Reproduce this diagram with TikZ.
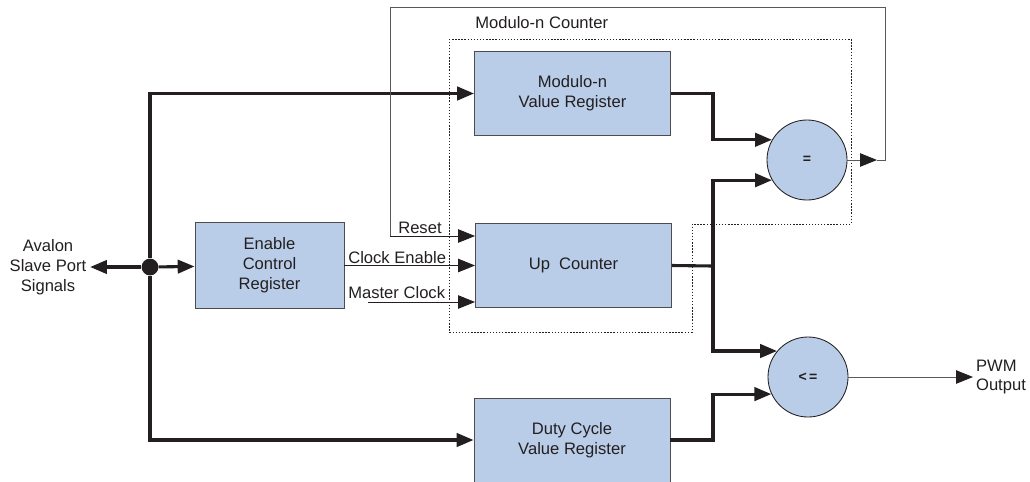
\documentclass[tikz,border=0pt]{standalone}
\usepackage{fontspec}
\setmainfont{Liberation Sans}
\usetikzlibrary{arrows.meta}
\definecolor{regblue}{RGB}{185,205,232}
\definecolor{ink}{RGB}{35,31,32}
\begin{document}
\begin{tikzpicture}[x=0.025cm, y=-0.025cm,
    font=\fontsize{11.8}{14.2}\selectfont,
    block/.style={draw=ink!80, fill=regblue, line width=0.6pt, rectangle, minimum height=2.1cm, minimum width=4.9cm, align=center, text=ink},
    cmp/.style={draw=ink, fill=regblue, line width=0.6pt, circle, minimum size=2cm, inner sep=0pt, text=ink, font=\fontsize{10}{12}\selectfont\bfseries},
    bus/.style={draw=ink, line width=2.2pt},
    sig/.style={draw=ink, line width=0.7pt},
    fb/.style={draw=ink!75, line width=0.7pt},
    tip/.style={-{Triangle[length=12pt,width=9.5pt,color=ink]}},
    lbl/.style={inner sep=0pt, text=ink}
  ]
    \useasboundingbox (0,0) rectangle (1030,481);

    % Blocks
    \node[block] at (572.5,93.5) (modreg) {Modulo-n\\Value Register};
    \node[block] at (573.5,265.5) (upcnt)  {Up\ \ Counter};
    \node[block] at (572,440)    (duty)   {Duty Cycle\\Value Register};
    \node[block, minimum width=3.725cm, minimum height=2.15cm] at (269.5,265.5) (enable) {Enable\\Control\\Register};
    \node[cmp] at (807,160) (eqc) {=};
    \node[cmp] at (808,377) (lec) {<\,=};

    % Port, junction and output
    \node[lbl, inner sep=2.5pt, align=center] at (48,267) (avalon) {Avalon\\Slave Port\\Signals};
    \node[circle, fill=ink, minimum size=0.42cm, inner sep=0pt] at (150,267) (dot) {};
    \node[lbl, inner sep=2pt, anchor=west, align=left] at (973,377) (pwm) {PWM\\Output};

    % Modulo-n counter boundary
    \draw[ink, line width=0.7pt, dash pattern=on 1pt off 1.2pt] (449,39) -- (851,39) -- (851,224) -- (692,224) -- (692,332) -- (449,332) -- cycle;
    \node[lbl, anchor=base west] at (475,28) (modlbl) {Modulo-n Counter};

    % Bus connections
    \draw[bus,tip] (dot) -- (avalon);
    \draw[bus,tip] (dot) -- (enable);
    \draw[bus,tip] (dot) |- (modreg.west);
    \draw[bus,tip] (dot) |- (duty.west);

    % Counter inputs
    \coordinate (rst) at (390,236);
    \coordinate (mclk) at (368,302);
    \draw[sig,tip] (rst) -- (rst -| upcnt.west);
    \draw[sig,tip] (enable.east) -- (upcnt.west |- enable.east);
    \draw[sig,tip] (mclk) -- (mclk -| upcnt.west);
    \node[lbl, anchor=base west] at (398,233) (rstlbl) {Reset};
    \node[lbl, anchor=base west] at (348,263) (enlbl) {Clock Enable};
    \node[lbl, anchor=base west] at (348,298) (mclklbl) {Master Clock};

    % Comparator inputs
    \coordinate (split) at (713,266);
    \draw[bus,tip] (modreg.east) -| (split |- eqc.150) -- (eqc.150);
    \draw[bus] (upcnt.east) -- (split);
    \draw[bus,tip] (split) |- (eqc.210);
    \draw[bus,tip] (split) |- (lec.140);
    \draw[bus,tip] (duty.east) -| (split |- lec.205) -- (lec.205);

    % Feedback to reset and PWM output
    \coordinate (fbtip) at (877,160);
    \coordinate (fbtop) at (390,7);
    \draw[fb,tip] (eqc) -- (fbtip);
    \draw[fb] (fbtip) -- ++(8,0) |- (fbtop) -- (rst);
    \draw[fb,tip] (lec) -- (pwm);

  \end{tikzpicture}
\end{document}
